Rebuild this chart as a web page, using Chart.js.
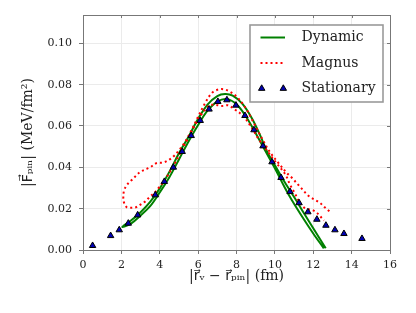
<!DOCTYPE html>
<html><head><meta charset="utf-8">
<script src="https://cdn.jsdelivr.net/npm/chart.js@4.4.1/dist/chart.umd.min.js"></script>
<style>html,body{margin:0;padding:0;background:#fff;}</style>
</head><body>
<canvas id="c" width="416" height="313"></canvas>
<script>
const xTicks = [0, 2, 4, 6, 8, 10, 12, 14, 16];
const yTicks = [0, 0.02, 0.04, 0.06, 0.08, 0.10];
const seriesLabels = ['Dynamic', 'Magnus', 'Stationary'];

const dynamicX = [12.55, 12.0, 11.5, 10.88, 10.5, 10.0, 9.5, 9.0, 8.5, 8.0, 7.5, 7.0, 6.5, 6.0, 5.5, 5.0, 4.5, 4.0, 3.5, 3.0, 2.5, 2.05,
                  2.5, 3.0, 3.5, 4.0, 4.5, 5.0, 5.5, 6.0, 6.5, 7.0, 7.4, 7.8, 8.3, 8.8, 9.2, 9.6, 10.0, 10.5, 11.1, 11.5, 12.0, 12.65];
const dynamicY = [0.0008, 0.0080, 0.0150, 0.0242, 0.0305, 0.0395, 0.0480, 0.0565, 0.0645, 0.0705, 0.0730, 0.0718, 0.0675, 0.0605, 0.0525, 0.0438, 0.0352, 0.0278, 0.0212, 0.0167, 0.0128, 0.0112,
                  0.0143, 0.0183, 0.0233, 0.0298, 0.0378, 0.0468, 0.0548, 0.0635, 0.0705, 0.0745, 0.0755, 0.0747, 0.0708, 0.0638, 0.0562, 0.0475, 0.0410, 0.0330, 0.0242, 0.0180, 0.0105, 0.0008];

const magnusX = [12.84, 12.58, 12.32, 11.78, 11.31, 10.87, 10.61, 10.18, 9.74, 9.3, 8.9, 8.5, 8.05, 7.66, 7.31, 6.97, 6.7, 6.36, 6.0, 5.6, 5.3, 5.0, 4.71, 4.5, 4.18, 3.84, 3.5, 3.0, 2.75, 2.5, 2.28, 2.14, 2.10, 2.14, 2.28, 2.49, 2.76, 2.97, 3.23, 3.49, 3.72, 3.92, 4.3, 4.7, 5.1, 5.5, 5.9, 6.3, 6.6, 6.9, 7.25, 7.57, 7.83, 8.35, 8.8, 9.2, 9.6, 10.0, 10.53, 10.79, 10.96, 11.48, 12.09, 12.56];
const magnusY = [0.0187, 0.0208, 0.0230, 0.0260, 0.0306, 0.0351, 0.0374, 0.0422, 0.0474, 0.0545, 0.0615, 0.0683, 0.0738, 0.0766, 0.0778, 0.0774, 0.0758, 0.0710, 0.0645, 0.0570, 0.0520, 0.0482, 0.0452, 0.0437, 0.0423, 0.0421, 0.0400, 0.0379, 0.0358, 0.0335, 0.0314, 0.0287, 0.0258, 0.0228, 0.0207, 0.0204, 0.0207, 0.0218, 0.0234, 0.0258, 0.0277, 0.0298, 0.0345, 0.0405, 0.0475, 0.0545, 0.0615, 0.0672, 0.0700, 0.0702, 0.0697, 0.0700, 0.0685, 0.0648, 0.0590, 0.0530, 0.0480, 0.0430, 0.0368, 0.0316, 0.0288, 0.0208, 0.0187, 0.0143];

const stationaryX = [0.50, 1.44, 1.89, 2.36, 2.85, 3.77, 4.24, 4.71, 5.17, 5.64, 6.11, 6.57, 7.03, 7.50, 7.97, 8.44, 8.91, 9.38, 9.85, 10.32, 10.79, 11.26, 11.72, 12.19, 12.66, 13.13, 13.60, 14.54];
const stationaryY = [0.0021, 0.0069, 0.0097, 0.0129, 0.0169, 0.0266, 0.0331, 0.0400, 0.0476, 0.0553, 0.0626, 0.0681, 0.0718, 0.0726, 0.0700, 0.0650, 0.0581, 0.0503, 0.0426, 0.0350, 0.0282, 0.0228, 0.0184, 0.0148, 0.0119, 0.0097, 0.0079, 0.0055];

const FONT = "'DejaVu Serif', 'DejaVu Sans', serif";
const TXT = '#222';
const toPts = (xs, ys) => xs.map((x, i) => ({x: x, y: ys[i]}));

const framePlugin = {
  id: 'frame',
  afterDatasetsDraw(chart) {
    const {ctx, chartArea: a, scales} = chart;
    ctx.save();
    ctx.strokeStyle = '#777';
    ctx.lineWidth = 1;
    ctx.beginPath();
    ctx.moveTo(a.left, a.top + 0.5); ctx.lineTo(a.right + 0.5, a.top + 0.5);
    ctx.moveTo(a.right + 0.5, a.top); ctx.lineTo(a.right + 0.5, a.bottom);
    xTicks.forEach(v => { const px = Math.round(scales.x.getPixelForValue(v)) + 0.5; ctx.moveTo(px, a.top); ctx.lineTo(px, a.top + 3); });
    yTicks.forEach(v => { const py = Math.round(scales.y.getPixelForValue(v)) + 0.5; ctx.moveTo(a.right, py); ctx.lineTo(a.right - 3, py); });
    ctx.stroke();
    ctx.restore();
  }
};

const legendPlugin = {
  id: 'boxLegend',
  afterDraw(chart) {
    const {ctx, chartArea: a} = chart;
    const ds = chart.data.datasets;
    const L = a.right - 140, T = a.top + 10, W = 133, H = 77;
    ctx.save();
    ctx.fillStyle = '#fff';
    ctx.strokeStyle = '#9a9a9a';
    ctx.lineWidth = 1.6;
    ctx.fillRect(L, T, W, H);
    ctx.strokeRect(L, T, W, H);
    ds.forEach((d, i) => {
      const y = T + 12.5 + i * 25.5;
      if (d.showLine) {
        ctx.beginPath();
        ctx.strokeStyle = d.borderColor;
        ctx.lineWidth = d.borderWidth;
        ctx.setLineDash(d.borderDash || []);
        ctx.moveTo(L + 10.5, y); ctx.lineTo(L + 35, y);
        ctx.stroke();
        ctx.setLineDash([]);
      } else {
        [L + 11.7, L + 33.3].forEach(cx => {
          const r = d.pointRadius;
          ctx.beginPath();
          ctx.moveTo(cx, y - r);
          ctx.lineTo(cx + r * 0.866, y + r * 0.5);
          ctx.lineTo(cx - r * 0.866, y + r * 0.5);
          ctx.closePath();
          ctx.fillStyle = d.backgroundColor;
          ctx.fill();
          ctx.strokeStyle = d.borderColor;
          ctx.lineWidth = 1;
          ctx.stroke();
        });
      }
      ctx.fillStyle = TXT;
      ctx.font = '14px ' + FONT;
      ctx.textBaseline = 'middle';
      ctx.textAlign = 'left';
      ctx.fillText(d.label, L + 51.5, y);
    });
    ctx.restore();
  }
};

new Chart(document.getElementById('c'), {
  type: 'scatter',
  data: {
    datasets: [
      {label: seriesLabels[0], data: toPts(dynamicX, dynamicY), showLine: true, borderColor: '#008000', borderWidth: 2, pointRadius: 0, tension: 0.35, order: 2},
      {label: seriesLabels[1], data: toPts(magnusX, magnusY), showLine: true, borderColor: '#ff0000', borderWidth: 2, borderDash: [2, 3], pointRadius: 0, tension: 0.35, order: 1},
      {label: seriesLabels[2], data: toPts(stationaryX, stationaryY), showLine: false, pointStyle: 'triangle', pointRadius: 3.7, backgroundColor: '#0000b4', borderColor: '#000', borderWidth: 1, order: 0}
    ]
  },
  options: {
    responsive: false, animation: false, devicePixelRatio: 1,
    layout: {padding: {left: 0, right: 26, top: 15, bottom: 0}},
    plugins: {legend: {display: false}, tooltip: {enabled: false}},
    scales: {
      x: {
        type: 'linear', min: 0, max: 16,
        afterBuildTicks: s => { s.ticks = xTicks.map(v => ({value: v})); },
        afterFit: s => { s.height = 63; },
        ticks: {font: {family: FONT, size: 11}, color: TXT, padding: 5, maxRotation: 0, callback: v => String(v)},
        grid: {color: '#ebebeb', tickColor: '#777', tickLength: 4},
        border: {color: '#777', width: 1},
        title: {display: true, text: '|r\u20D7\u1D65 \u2212 r\u20D7\u209A\u1D62\u2099| (fm)', font: {family: FONT, size: 14}, color: TXT, padding: {top: 0, bottom: 28}}
      },
      y: {
        type: 'linear', min: 0, max: 0.1137,
        afterBuildTicks: s => { s.ticks = yTicks.map(v => ({value: v})); },
        afterFit: s => { s.width = 83; },
        ticks: {font: {family: FONT, size: 11}, color: TXT, padding: 7, callback: v => v.toFixed(2)},
        grid: {color: '#ebebeb', tickColor: '#777', tickLength: 4},
        border: {color: '#777', width: 1},
        title: {display: true, text: '|F\u20D7\u209A\u1D62\u2099| (MeV/fm\u00B2)', font: {family: FONT, size: 14}, color: TXT, padding: {top: 20, bottom: 0}}
      }
    }
  },
  plugins: [framePlugin, legendPlugin]
});
</script>
</body></html>
